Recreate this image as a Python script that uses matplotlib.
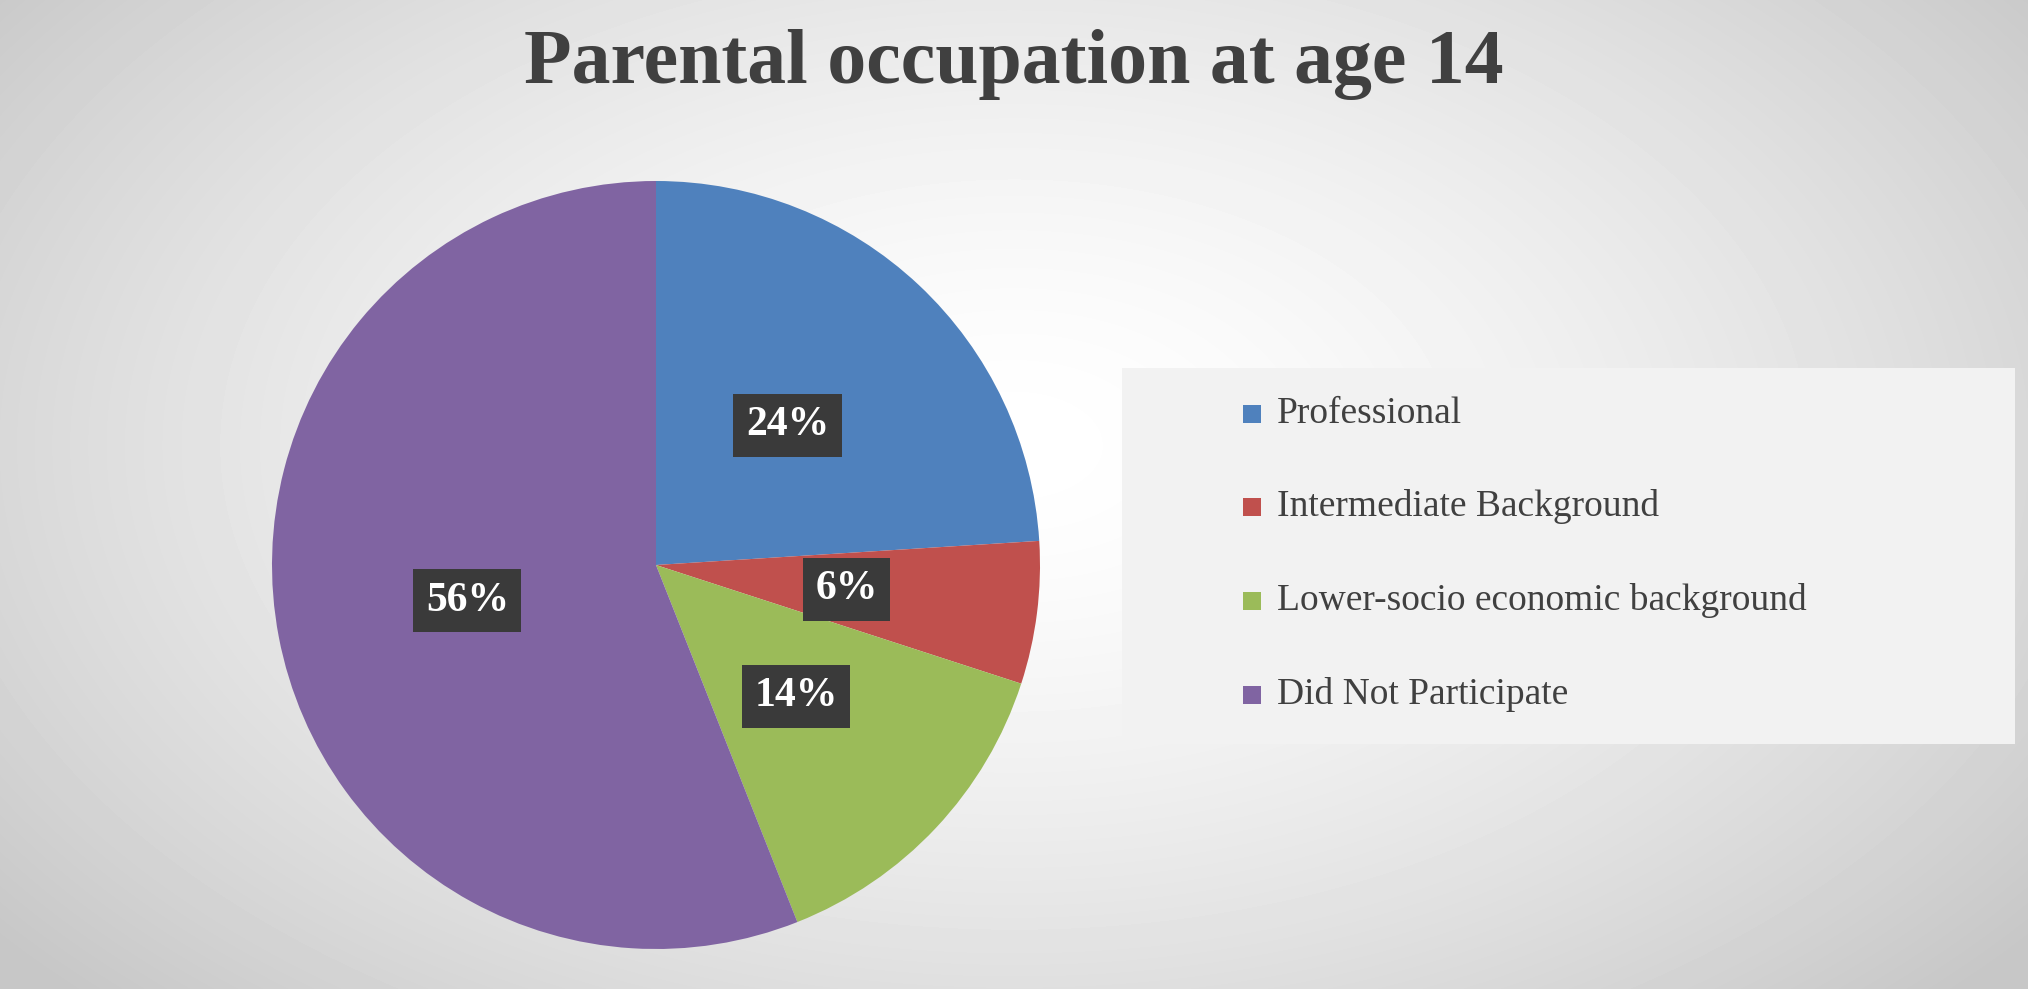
import matplotlib

matplotlib.use("Agg")
import matplotlib.pyplot as plt
import numpy as np

categories = ["Professional", "Intermediate Background",
              "Lower-socio economic background", "Did Not Participate"]
shares = [24, 6, 14, 56]
colors = ["#4f81bd", "#c0504d", "#9bbb59", "#8064a2"]

W, H = 2028, 989
fig = plt.figure(figsize=(W / 100, H / 100), dpi=100)

# radial gradient background
bg = fig.add_axes([0, 0, 1, 1])
yy, xx = np.mgrid[0:H, 0:W]
d = np.sqrt(((xx - W * 0.5) / (W * 0.6)) ** 2 + ((yy - H * 0.45) / (H * 0.75)) ** 2)
shade = np.clip(1.0 - 0.2 * d ** 1.5, 0.78, 1.0)
bg.imshow(shade, cmap="gray", vmin=0, vmax=1, aspect="auto", extent=[0, 1, 0, 1])
bg.axis("off")

serif = ["Liberation Serif", "DejaVu Serif"]
fig.text(0.5, 0.935, "Parental occupation at age 14", ha="center", va="center",
         fontsize=56, fontweight="bold", color="#404040", family=serif)

r_px = 384
cx, cy = 656, 565
ax = fig.add_axes([(cx - r_px) / W, (H - cy - r_px) / H, 2 * r_px / W, 2 * r_px / H])
wedges, texts, autotexts = ax.pie(
    shares, colors=colors, startangle=90, counterclock=False,
    autopct=lambda p: f"{p:.0f}%", pctdistance=0.5, radius=1,
    wedgeprops=dict(edgecolor="none"))
for t in autotexts:
    t.set_color("white")
    t.set_fontsize(30)
    t.set_fontweight("bold")
    t.set_family(serif)
    t.set_bbox(dict(boxstyle="square,pad=0.3", fc="#3a3a3a", ec="none"))
ax.set_xlim(-1, 1); ax.set_ylim(-1, 1)
ax.set_aspect("equal")

# legend panel
lx0, lx1, ly0, ly1 = 1122, 2015, 368, 744
fig.patches.append(plt.Rectangle((lx0 / W, 1 - ly1 / H), (lx1 - lx0) / W, (ly1 - ly0) / H,
                                 transform=fig.transFigure, fc="#f2f2f2", ec="none"))
ys = [414, 507, 601, 695]
for cat, col, y in zip(categories, colors, ys):
    fig.patches.append(plt.Rectangle((1243 / W, 1 - (y + 9) / H), 18 / W, 18 / H,
                                     transform=fig.transFigure, fc=col, ec="none"))
    fig.text(1277 / W, 1 - y / H, cat, ha="left", va="center", fontsize=27,
             color="#404040", family=serif)

fig.savefig("out.png", dpi=100)
